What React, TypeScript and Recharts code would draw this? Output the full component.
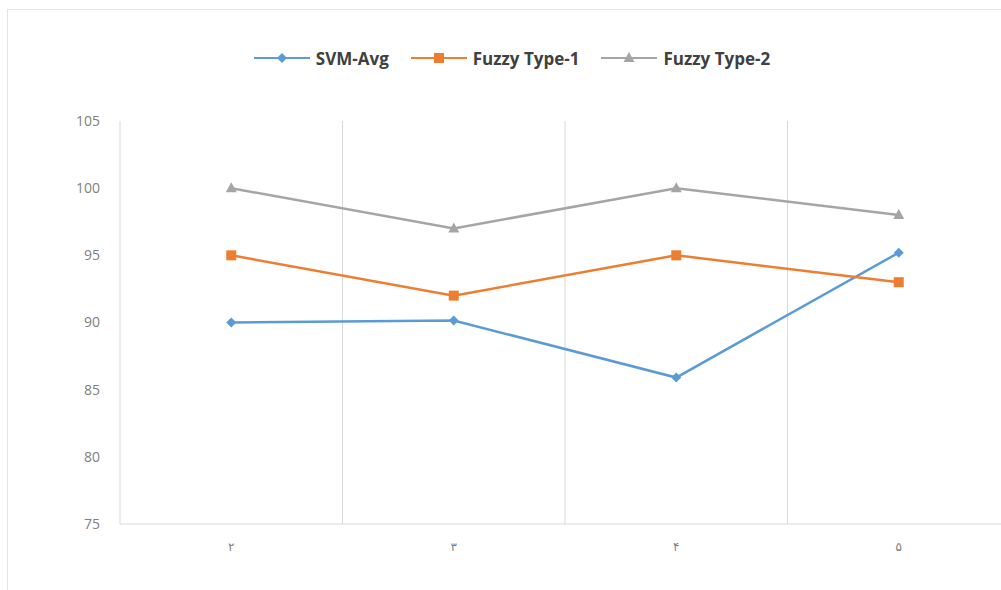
import React from "react";
import {
  LineChart,
  Line,
  XAxis,
  YAxis,
  Legend,
  ReferenceLine,
} from "recharts";

// x categories (Persian digits as in the source figure)
const CATEGORIES = ["۲", "۳", "۴", "۵"];
const SVM_AVG = [90, 90.15, 85.9, 95.2];
const FUZZY_T1 = [95, 92, 95, 93];
const FUZZY_T2 = [100, 97, 100, 98];
const Y_TICKS = [75, 80, 85, 90, 95, 100, 105];
const X_DIVIDERS = [1.5, 2.5, 3.5];

const data = CATEGORIES.map((c, i) => ({
  x: i + 1,
  label: c,
  svm: SVM_AVG[i],
  t1: FUZZY_T1[i],
  t2: FUZZY_T2[i],
}));

const SERIES = [
  { key: "svm", name: "SVM-Avg", color: "#5B9BD5", marker: "diamond" },
  { key: "t1", name: "Fuzzy Type-1", color: "#ED7D31", marker: "square" },
  { key: "t2", name: "Fuzzy Type-2", color: "#A5A5A5", marker: "triangle" },
] as const;

function Marker({ cx, cy, kind, color }: { cx: number; cy: number; kind: string; color: string }) {
  if (cx == null || cy == null) return null;
  if (kind === "square") {
    return <rect x={cx - 5} y={cy - 5} width={10} height={10} fill={color} />;
  }
  if (kind === "triangle") {
    return <polygon points={`${cx},${cy - 6} ${cx + 5.5},${cy + 4} ${cx - 5.5},${cy + 4}`} fill={color} />;
  }
  return <polygon points={`${cx},${cy - 5} ${cx + 5},${cy} ${cx},${cy + 5} ${cx - 5},${cy}`} fill={color} />;
}

function LegendContent() {
  return (
    <div style={{ display: "flex", justifyContent: "center", height: 28, alignItems: "center", paddingLeft: 4 }}>
      {SERIES.map((s, i) => (
        <div key={s.key} style={{ display: "flex", alignItems: "center", marginLeft: i === 0 ? 0 : 22 }}>
          <svg width={56} height={14} style={{ marginRight: 6 }}>
            <line x1={0} y1={7} x2={56} y2={7} stroke={s.color} strokeWidth={2} />
            <Marker cx={28} cy={7} kind={s.marker} color={s.color} />
          </svg>
          <span style={{ fontFamily: "'Open Sans', sans-serif", fontWeight: 700, fontSize: 17, color: "#404040" }}>
            {s.name}
          </span>
        </div>
      ))}
    </div>
  );
}

export default function App() {
  return (
    <div style={{ position: "absolute", left: 0, top: 0, width: 1001, height: 590, overflow: "hidden", background: "#fff" }}>
      <div
        style={{
          position: "absolute",
          left: 7,
          top: 9,
          width: 1001,
          height: 580,
          borderTop: "1px solid #e4e4e4",
          borderLeft: "1px solid #e4e4e4",
        }}
      />
      <div style={{ position: "absolute", left: 0, top: 0 }}>
        <LineChart width={1020} height={590} data={data} margin={{ top: 93, right: 10, bottom: 0, left: 0 }}>
          <Legend verticalAlign="top" content={<LegendContent />} wrapperStyle={{ top: 44, left: 0, width: 1020 }} />
          <XAxis
            dataKey="x"
            type="number"
            domain={[0.5, 4.5]}
            ticks={[1, 2, 3, 4]}
            tickFormatter={(v: number) => CATEGORIES[v - 1]}
            height={66}
            tickSize={0}
            tickMargin={18}
            axisLine={{ stroke: "#d9d9d9" }}
            tick={{ fill: "#7f7f7f", fontSize: 12, fontFamily: "DejaVu Sans" }}
          />
          <YAxis
            domain={[75, 105]}
            ticks={Y_TICKS}
            width={120}
            tickSize={0}
            tickMargin={20}
            axisLine={{ stroke: "#d9d9d9" }}
            tick={{ fill: "#808080", fontSize: 14, fontFamily: "Open Sans" }}
          />
          {X_DIVIDERS.map((v) => (
            <ReferenceLine key={v} x={v} stroke="#d9d9d9" strokeWidth={1} />
          ))}
          {SERIES.map((s) => (
            <Line
              key={s.key}
              dataKey={s.key}
              name={s.name}
              stroke={s.color}
              strokeWidth={2.5}
              isAnimationActive={false}
              dot={(p: any) => <Marker key={`${s.key}-${p.index}`} cx={p.cx} cy={p.cy} kind={s.marker} color={s.color} />}
              activeDot={false}
            />
          ))}
        </LineChart>
      </div>
    </div>
  );
}
